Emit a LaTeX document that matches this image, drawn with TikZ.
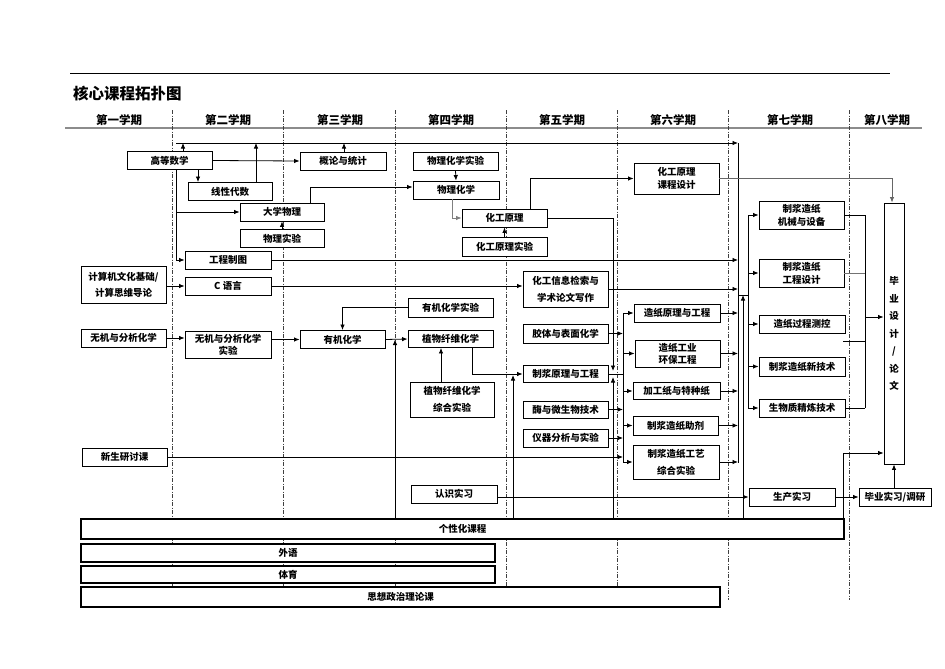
\documentclass[tikz,border=0pt]{standalone}
\usepackage{fontspec}
\newfontfamily\cjk{Noto Sans CJK SC}
\usetikzlibrary{arrows.meta}

\begin{document}
\begin{tikzpicture}[x=1pt, y=-1pt,
  course/.style={draw, fill=white, line width=0.9pt, minimum width=85pt, minimum height=18pt, inner sep=1pt, align=center, font=\cjk\bfseries\fontsize{9.5}{13}\selectfont},
  bar/.style={course, line width=1.1pt, minimum height=19pt},
  arr/.style={line width=0.8pt, -{Latex[length=5.5pt,width=4.5pt]}},
  link/.style={line width=0.8pt},
  term/.style={font=\cjk\bfseries\fontsize{11.5}{13}\selectfont},
  divider/.style={line width=0.6pt, black!75, dash pattern=on 4pt off 1.5pt on 1pt off 1.5pt}]

% page
\fill[white] (0,0) rectangle (945,669);
\useasboundingbox (0,0) rectangle (945,669);

% title and semesters
\draw[line width=0.7pt] (70,73) -- (890,73);
\node[font=\cjk\bfseries\fontsize{15.5}{17}\selectfont, anchor=west, inner sep=0pt] (TT) at (73,94) {核心课程拓扑图};
\node[term] (H1) at (119,120) {第一学期};
\node[term] (H2) at (228,120) {第二学期};
\node[term] (H3) at (340,120) {第三学期};
\node[term] (H4) at (451,120) {第四学期};
\node[term] (H5) at (562,120) {第五学期};
\node[term] (H6) at (673,120) {第六学期};
\node[term] (H7) at (790,120) {第七学期};
\node[term] (H8) at (887,120) {第八学期};
\draw[line width=1.4pt, black!45] (65,128) -- (922,128);
\draw[divider] (172.5,110) -- (172.5,600);
\draw[divider] (283,110) -- (283,600);
\draw[divider] (395.5,110) -- (395.5,600);
\draw[divider] (506,110) -- (506,600);
\draw[divider] (617,110) -- (617,600);
\draw[divider] (728.5,110) -- (728.5,600);
\draw[divider] (849,110) -- (849,600);

% semester 1
\node[course] (S1N0) at (169.5,160.5) {高等数学};
\node[course, minimum height=37pt] (S1N1) at (123.5,284.5) {计算机文化基础/\\[3pt]计算思维导论};
\node[course] (S1N2) at (123.5,338) {无机与分析化学};
\node[course] (S1N3) at (124.5,457) {新生研讨课};

% semester 2
\node[course, minimum width=84pt] (S2N0) at (230,191.5) {线性代数};
\node[course, minimum width=84pt] (S2N1) at (282,212) {大学物理};
\node[course, minimum width=84pt] (S2N2) at (282,238.5) {物理实验};
\node[course, minimum width=86pt] (S2N3) at (228,260) {工程制图};
\node[course, minimum width=86pt] (S2N4) at (228,286) {C 语言};
\node[course, minimum width=86pt, minimum height=27pt] (S2N5) at (228,344.5) {无机与分析化学\\[-1pt]实验};

% semester 3
\node[course, minimum width=86pt] (S3N0) at (343,161) {概论与统计};
\node[course] (S3N1) at (342.5,339.5) {有机化学};

% semester 4
\node[course] (S4N0) at (455.5,161) {物理化学实验};
\node[course, minimum width=86pt] (S4N1) at (456,190) {物理化学};
\node[course] (S4N2) at (504.5,218) {化工原理};
\node[course, minimum height=19pt] (S4N3) at (504.5,246.5) {化工原理实验};
\node[course, minimum height=19pt] (S4N4) at (450.5,307.5) {有机化学实验};
\node[course, minimum height=17pt] (S4N5) at (450.5,339) {植物纤维化学};
\node[course, minimum width=84pt, minimum height=35pt] (S4N6) at (452,399.5) {植物纤维化学\\[4pt]综合实验};
\node[course, minimum width=86pt] (S4N7) at (454,494) {认识实习};

% semester 5
\node[course, minimum height=36pt] (S5N0) at (565.5,289) {化工信息检索与\\[4pt]学术论文写作};
\node[course, minimum height=19pt] (S5N1) at (565.5,333.5) {胶体与表面化学};
\node[course, minimum height=17pt] (S5N2) at (565.5,374) {制浆原理与工程};
\node[course, minimum height=17pt] (S5N3) at (565.5,409.5) {酶与微生物技术};
\node[course] (S5N4) at (565.5,438) {仪器分析与实验};

% semester 6
\node[course, minimum height=31pt] (S6N0) at (676.5,178.5) {化工原理\\课程设计};
\node[course, minimum width=86pt] (S6N1) at (677,313) {造纸原理与工程};
\node[course, minimum height=27pt] (S6N2) at (677.5,353.5) {造纸工业\\[-1pt]环保工程};
\node[course, minimum width=87pt, minimum height=17pt] (S6N3) at (676.5,391) {加工纸与特种纸};
\node[course, minimum height=19pt] (S6N4) at (675.5,425.5) {制浆造纸助剂};
\node[course, minimum width=86pt, minimum height=34pt] (S6N5) at (676,462) {制浆造纸工艺\\[4pt]综合实验};

% semester 7
\node[course, minimum height=28pt] (S7N0) at (801.5,215) {制浆造纸\\机械与设备};
\node[course, minimum height=28pt] (S7N1) at (801.5,273) {制浆造纸\\工程设计};
\node[course, minimum width=86pt] (S7N2) at (802,324) {造纸过程测控};
\node[course, minimum width=86pt, minimum height=19pt] (S7N3) at (802,366.5) {制浆造纸新技术};
\node[course, minimum width=86pt] (S7N4) at (802,408) {生物质精炼技术};
\node[course, minimum width=86pt] (S7N5) at (792,497) {生产实习};

% semester 8
\node[course, minimum width=20pt, minimum height=261pt, font=\cjk\bfseries\fontsize{9.5}{17.5}\selectfont] (S8N0) at (894,333.5) {毕\\业\\设\\计\\/\\论\\文};
\node[course, minimum width=72pt] (S8N1) at (895,497) {毕业实习/调研};

% common courses
\node[bar, minimum width=763pt, minimum height=20pt] (B0) at (462.5,529) {个性化课程};
\node[bar, minimum width=414pt, minimum height=18pt] (B1) at (288,553) {外语};
\node[bar, minimum width=414pt, minimum height=17pt] (B2) at (288,574.5) {体育};
\node[bar, minimum width=639pt, minimum height=20pt] (B3) at (400.5,597) {思想政治理论课};

% bus points
\coordinate (TB0) at (176,143);
\coordinate (TB1) at (183,143);
\coordinate (TB2) at (256,143);
\coordinate (TB3) at (344,143);
\coordinate (RB0) at (738,143);
\coordinate (RB1) at (738,463);
\coordinate (RJ) at (738,295);
\coordinate (UJ) at (743,295);
\coordinate (DB0) at (748,295);
\coordinate (DB1) at (748,215);
\coordinate (DB2) at (748,408);
\coordinate (LB0) at (176,0);
\coordinate (YJ0) at (395,0);
\coordinate (FB0) at (623,313);
\coordinate (FB1) at (623,462);
\coordinate (ZJ0) at (513,374);
\coordinate (ZJ1) at (613,374);
\coordinate (GB0) at (865,215);
\coordinate (GB1) at (865,408);
\coordinate (GB2) at (865,317);
\coordinate (GS) at (843,341);
\coordinate (GX) at (843,453);

% semester 1-3
\draw[arr] (S1N0.east) -- (S3N0.west);
\draw[arr] ([xshift=28.5pt]S1N0.south) -- ([xshift=28.5pt]S1N0.south |- S2N0.north);
\draw[arr] (S1N0.north -| TB1) -- (TB1);
\draw[arr] (S2N0.north -| TB2) -- (TB2);
\draw[arr] (S3N0.north -| TB3) -- (TB3);
\draw[arr] (TB0) -- (RB0);
\draw[link] (RB0) -- (RB1);
\draw[arr] (S1N0.south -| LB0) |- (S2N3.west);
\draw[arr] (S2N1.west -| LB0) -- (S2N1.west);
\draw[arr] (S2N2.north) -- (S2N1.south);
\draw[arr] ([xshift=28pt]S2N1.north) |- ([yshift=3pt]S4N1.west);
\draw[arr] (S2N4.west -| S1N1.east) -- (S2N4.west);
\draw[arr] (S2N4.east) -- (S2N4.east -| S5N0.west);
\draw[arr] (S1N2.east) -- (S1N2.east -| S2N5.west);
\draw[arr] (S3N1.west -| S2N5.east) -- (S3N1.west);
\draw[arr] (S2N3.east) -- (S2N3.east -| RB0);

% semester 3-5
\draw[arr] (S4N4.west) -| (S3N1.north);
\draw[arr] (S3N1.east) -- (S4N5.west);
\draw[arr] (B0.north -| YJ0) -- (S3N1.east -| YJ0);
\draw[arr] ([xshift=-11pt]S4N6.north) -- ([xshift=-11pt]S4N6.north |- S4N5.south);
\draw[arr] (S4N0.south) -- (S4N1.north);
\draw[arr, black!50] ([xshift=-4pt]S4N1.south) |- (S4N2.west);
\draw[arr] (S4N3.north) -- (S4N2.south);
\draw[arr] ([xshift=25.5pt]S4N2.north) |- (S6N0.west);
\draw[arr, shorten >=3pt] (S4N2.east) -| (ZJ1);
\draw[arr] ([xshift=21.5pt]S4N5.south) |- (S5N2.west);
\draw[arr, shorten >=1pt] (B0.north -| ZJ0) -- (ZJ0);
\draw[arr, shorten >=3pt] (B0.north -| ZJ1) -- (ZJ1);
\draw[arr] (S7N5.west -| S4N7.east) -- (S7N5.west);

% semester 5-6
\draw[link] (S5N2.east) -- (S5N2.east -| FB0);
\draw[link] (FB0) -- (FB1);
\draw[arr] (S5N1.east) -- (S5N1.east -| FB0);
\draw[arr] (S5N3.east) -- (S5N3.east -| FB0);
\draw[arr] (S5N4.east) -- (S5N4.east -| FB0);
\draw[arr] (S1N3.east) -- (S1N3.east -| FB0);
\draw[arr] (S6N1.west -| FB0) -- (S6N1.west);
\draw[arr] (S6N2.west -| FB0) -- (S6N2.west);
\draw[arr] (S6N3.west -| FB0) -- (S6N3.west);
\draw[arr] (S6N4.west -| FB0) -- (S6N4.west);
\draw[arr] (S6N5.west -| FB0) -- (S6N5.west);
\draw[arr] (S5N0.east) -- (S5N0.east -| RB0);
\draw[arr] (S6N1.east) -- (S6N1.east -| RB0);
\draw[arr] (S6N2.east) -- (S6N2.east -| RB0);
\draw[arr] (S6N3.east) -- (S6N3.east -| RB0);
\draw[arr] (S6N4.east) -- (S6N4.east -| RB0);
\draw[arr] (S6N5.east) -- (S6N5.east -| RB0);

% semester 7-8
\draw[link] (RJ) -- (DB0);
\draw[link] (DB1) -- (DB2);
\draw[arr] (B0.north -| UJ) -- (UJ);
\draw[arr] (S7N0.west -| DB1) -- (S7N0.west);
\draw[arr] (S7N1.west -| DB1) -- (S7N1.west);
\draw[arr] (S7N2.west -| DB1) -- (S7N2.west);
\draw[arr] (S7N3.west -| DB1) -- (S7N3.west);
\draw[arr] (S7N4.west -| DB1) -- (S7N4.west);
\draw[link] (S7N0.east) -- (GB0);
\draw[link, black!55] (S7N1.east) -- (S7N1.east -| GB0);
\draw[link] (S7N4.east) -- (GB1);
\draw[link] (GS) -- (GS -| GB0);
\draw[link] (GB0) -- (GB1);
\draw[arr] (GB2) -- (GB2 -| S8N0.west);
\draw[arr, black!60] (S6N0.east) -| ([xshift=-2pt]S8N0.north);
\draw[arr] (B0.north east -| GX) |- (GX -| S8N0.west);
\draw[arr] (S7N5.east) -- (S8N1.west);
\draw[arr] (S8N1.north -| S8N0.south) -- (S8N0.south);
\end{tikzpicture}
\end{document}
